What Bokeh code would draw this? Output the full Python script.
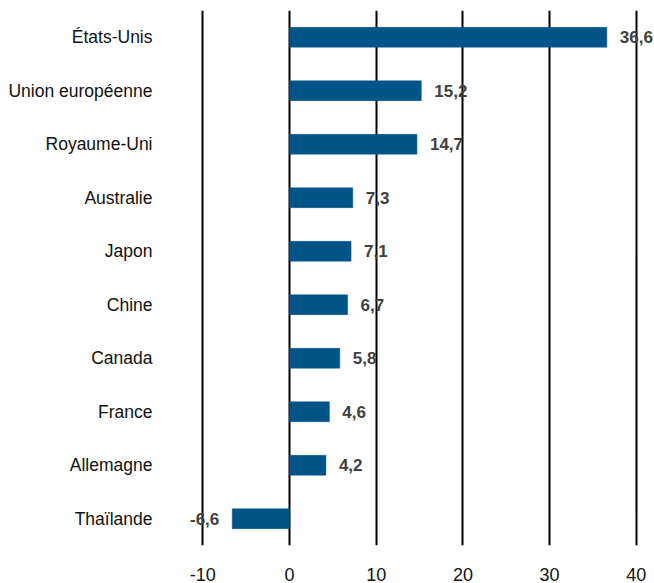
from bokeh.plotting import figure
from bokeh.models import ColumnDataSource, FixedTicker, Range1d
from bokeh.core.properties import value
from bokeh.embed import file_html
from bokeh.resources import INLINE

countries = ["États-Unis", "Union européenne", "Royaume-Uni", "Australie", "Japon",
             "Chine", "Canada", "France", "Allemagne", "Thaïlande"]
values = [36.6, 15.2, 14.7, 7.3, 7.1, 6.7, 5.8, 4.6, 4.2, -6.6]
x_ticks = [-10, 0, 10, 20, 30, 40]
x_tick_labels = ["-10", "0", "10", "20", "30", "40"]

FONT = "Liberation Sans"
BAR = "#005487"

labels = [f"{v:.1f}".replace(".", ",") for v in values]
src_pos = ColumnDataSource(dict(y=[c for c, v in zip(countries, values) if v >= 0],
                                x=[v for v in values if v >= 0],
                                t=[l for l, v in zip(labels, values) if v >= 0]))
src_neg = ColumnDataSource(dict(y=[c for c, v in zip(countries, values) if v < 0],
                                x=[v for v in values if v < 0],
                                t=[l for l, v in zip(labels, values) if v < 0]))
src = ColumnDataSource(dict(y=countries, x=values))

p = figure(width=654, height=583, y_range=list(reversed(countries)),
           x_range=Range1d(-12.57, 42.1), output_backend="svg", toolbar_location=None,
           min_border_left=180, min_border_right=0, min_border_top=10, min_border_bottom=38)
p.outline_line_color = None
p.background_fill_color = "white"
p.border_fill_color = "white"

p.hbar(y="y", right="x", left=0, height=0.37, source=src, fill_color=BAR, line_color=BAR,
       line_width=0.5)
p.text(x="x", y="y", text="t", source=src_pos, x_offset=13, text_align="left",
       text_baseline="middle", text_font=value(FONT), text_font_size="17px",
       text_font_style="bold", text_color="#404040")
p.text(x="x", y="y", text="t", source=src_neg, x_offset=-13, text_align="right",
       text_baseline="middle", text_font=value(FONT), text_font_size="17px",
       text_font_style="bold", text_color="#404040")

p.xgrid.ticker = FixedTicker(ticks=x_ticks)
p.xgrid.grid_line_color = "black"
p.xgrid.grid_line_width = 2
p.ygrid.grid_line_color = None

p.xaxis.ticker = FixedTicker(ticks=x_ticks)
p.xaxis.major_label_overrides = {t: l for t, l in zip(x_ticks, x_tick_labels)}
p.xaxis.axis_line_color = None
p.xaxis.major_tick_line_color = None
p.xaxis.minor_tick_line_color = None
p.xaxis.major_label_standoff = 16
p.xaxis.major_label_text_font = FONT
p.xaxis.major_label_text_font_size = "18px"
p.xaxis.major_label_text_color = "#111111"

p.yaxis.axis_line_color = None
p.yaxis.major_tick_line_color = None
p.yaxis.minor_tick_line_color = None
p.yaxis.major_label_standoff = 22
p.yaxis.major_label_text_font = FONT
p.yaxis.major_label_text_font_size = "17.5px"
p.yaxis.major_label_text_color = "#111111"

open("out.html", "w").write(file_html(p, INLINE))
